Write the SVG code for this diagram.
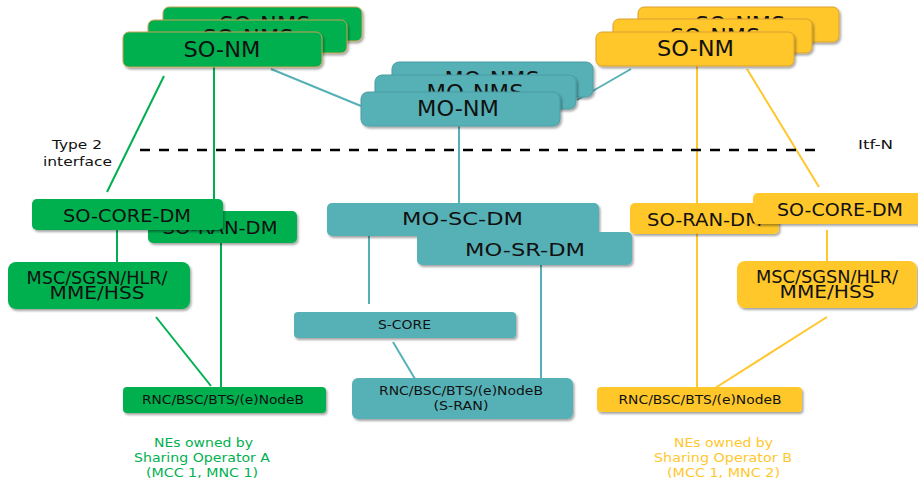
<svg xmlns="http://www.w3.org/2000/svg" width="918" height="482" viewBox="0 0 918 482">
  <defs>
    <filter id="shadow" x="-10%" y="-20%" width="125%" height="160%">
      <feDropShadow dx="1.5" dy="2" stdDeviation="1.2" flood-color="#000" flood-opacity="0.35"/>
    </filter>
  </defs>
  <style>
    text { font-family: "DejaVu Sans", Verdana, sans-serif; fill: #111; text-anchor: middle; }
    .g { fill: #00B050; }
    .y { fill: #FFC72C; }
    .t { fill: #56B1B7; }
    .nm { stroke-width: 1; filter: url(#shadow); }
    .g.nm { stroke: #C9A055; }
    .y.nm { stroke: #D9A030; }
    .t.nm { stroke: #4A9CA2; }
    .box { filter: url(#shadow); }
    .lg { stroke: #00B050; stroke-width: 2; fill: none; }
    .ly { stroke: #FFC72C; stroke-width: 2; fill: none; }
    .lt { stroke: #56B1B7; stroke-width: 2; fill: none; }
    .big { font-size: 21px; }
    .dm { font-size: 18px; }
    .ne { font-size: 17px; }
    .small { font-size: 12px; }
    .note { font-size: 13px; }
    .gt { fill: #00B050; font-size: 12px; }
    .yt { fill: #FFC72C; font-size: 12px; }
  </style>

  <!-- connectors -->
  <g id="connectors">
    <!-- operator A -->
    <line class="lg" x1="164" y1="76" x2="107" y2="192"/>
    <line class="lg" x1="214" y1="67" x2="214" y2="199"/>
    <line class="lg" x1="117" y1="230" x2="117" y2="262"/>
    <line class="lg" x1="221" y1="243" x2="221" y2="387"/>
    <line class="lg" x1="156" y1="317" x2="211" y2="386"/>
    <!-- shared (MO) -->
    <line class="lt" x1="271" y1="69" x2="361" y2="106"/>
    <line class="lt" x1="631" y1="69" x2="577" y2="100"/>
    <line class="lt" x1="459" y1="126" x2="459" y2="203"/>
    <line class="lt" x1="369" y1="236" x2="369" y2="304"/>
    <line class="lt" x1="393" y1="342" x2="418" y2="384"/>
    <line class="lt" x1="541" y1="265" x2="541" y2="378"/>
    <!-- operator B -->
    <line class="ly" x1="697" y1="66" x2="697" y2="203"/>
    <line class="ly" x1="747" y1="69" x2="819" y2="187"/>
    <line class="ly" x1="697" y1="234" x2="697" y2="387"/>
    <line class="ly" x1="827" y1="230" x2="827" y2="265"/>
    <line class="ly" x1="827" y1="317" x2="712" y2="390"/>
    <!-- Itf-N boundary -->
    <line x1="140" y1="150" x2="820" y2="150" stroke="#000" stroke-width="2.5" stroke-dasharray="10 9"/>
  </g>

  <!-- operator A network management stack -->
  <g id="so-nm-a">
    <rect class="g nm" x="163" y="7" width="199" height="34" rx="6"/>
    <text class="big" x="265" y="32" textLength="91" lengthAdjust="spacingAndGlyphs">SO-NMS</text>
    <rect class="g nm" x="148" y="20" width="199" height="33" rx="6"/>
    <text class="big" x="248" y="45" textLength="91" lengthAdjust="spacingAndGlyphs">SO-NMS</text>
    <rect class="g nm" x="123" y="32" width="199" height="35" rx="6"/>
    <text class="big" x="222" y="57" textLength="77" lengthAdjust="spacingAndGlyphs">SO-NM</text>
  </g>

  <!-- shared network management stack -->
  <g id="mo-nm">
    <rect class="t nm" x="392" y="62" width="201" height="35" rx="7"/>
    <text class="big" x="492" y="87" textLength="95" lengthAdjust="spacingAndGlyphs">MO-NMS</text>
    <rect class="t nm" x="375" y="75" width="201" height="34" rx="7"/>
    <text class="big" x="475" y="100" textLength="97" lengthAdjust="spacingAndGlyphs">MO-NMS</text>
    <rect class="t nm" x="361" y="92" width="199" height="34" rx="7"/>
    <text class="big" x="458" y="116" textLength="82" lengthAdjust="spacingAndGlyphs">MO-NM</text>
  </g>

  <!-- operator B network management stack -->
  <g id="so-nm-b">
    <rect class="y nm" x="638" y="7" width="201" height="35" rx="6"/>
    <text class="big" x="740" y="32" textLength="90" lengthAdjust="spacingAndGlyphs">SO-NMS</text>
    <rect class="y nm" x="613" y="19" width="199" height="34" rx="6"/>
    <text class="big" x="715" y="44" textLength="90" lengthAdjust="spacingAndGlyphs">SO-NMS</text>
    <rect class="y nm" x="596" y="32" width="198" height="34" rx="6"/>
    <text class="big" x="695.5" y="56" textLength="77" lengthAdjust="spacingAndGlyphs">SO-NM</text>
  </g>

  <!-- operator A domain managers and NEs -->
  <g id="so-ran-dm-a">
    <rect class="g box" x="148" y="211" width="149" height="32" rx="5"/>
    <text class="dm" x="220" y="234" textLength="115" lengthAdjust="spacingAndGlyphs">SO-RAN-DM</text>
  </g>
  <g id="so-core-dm-a">
    <rect class="g box" x="32" y="199" width="191" height="31" rx="5"/>
    <text class="dm" x="127" y="222" textLength="128" lengthAdjust="spacingAndGlyphs">SO-CORE-DM</text>
  </g>
  <g id="core-ne-a">
    <rect class="g box" x="8" y="262" width="182" height="47" rx="8"/>
    <text class="ne" x="97" y="284" textLength="141" lengthAdjust="spacingAndGlyphs">MSC/SGSN/HLR/</text>
    <text class="ne" x="97" y="299" textLength="95" lengthAdjust="spacingAndGlyphs">MME/HSS</text>
  </g>
  <g id="ran-ne-a">
    <rect class="g box" x="123" y="387" width="203" height="26" rx="4"/>
    <text class="small" x="223" y="404" textLength="162" lengthAdjust="spacingAndGlyphs">RNC/BSC/BTS/(e)NodeB</text>
  </g>

  <!-- shared domain managers and NEs -->
  <g id="mo-sc-dm">
    <rect class="t box" x="327" y="203" width="272" height="33" rx="5"/>
    <text class="dm" x="462.5" y="225" textLength="121" lengthAdjust="spacingAndGlyphs">MO-SC-DM</text>
  </g>
  <g id="mo-sr-dm">
    <rect class="t box" x="417" y="232" width="215" height="33" rx="5"/>
    <text class="dm" x="525" y="256" textLength="120" lengthAdjust="spacingAndGlyphs">MO-SR-DM</text>
  </g>
  <g id="s-core">
    <rect class="t box" x="294" y="312" width="222" height="26" rx="4"/>
    <text class="small" x="404.5" y="329" textLength="53" lengthAdjust="spacingAndGlyphs">S-CORE</text>
  </g>
  <g id="s-ran">
    <rect class="t box" x="352" y="378" width="221" height="41" rx="6"/>
    <text class="small" x="461" y="395" textLength="164" lengthAdjust="spacingAndGlyphs">RNC/BSC/BTS/(e)NodeB</text>
    <text class="small" x="461" y="410" textLength="55" lengthAdjust="spacingAndGlyphs">(S-RAN)</text>
  </g>

  <!-- operator B domain managers and NEs -->
  <g id="so-ran-dm-b">
    <rect class="y box" x="630" y="203" width="149" height="31" rx="5"/>
    <text class="dm" x="704.5" y="226" textLength="115" lengthAdjust="spacingAndGlyphs">SO-RAN-DM</text>
  </g>
  <g id="so-core-dm-b">
    <rect class="y box" x="753" y="193" width="175" height="31" rx="5"/>
    <text class="dm" x="840" y="216" textLength="126" lengthAdjust="spacingAndGlyphs">SO-CORE-DM</text>
  </g>
  <g id="core-ne-b">
    <rect class="y box" x="737" y="261" width="180" height="47" rx="8"/>
    <text class="ne" x="827" y="283" textLength="142" lengthAdjust="spacingAndGlyphs">MSC/SGSN/HLR/</text>
    <text class="ne" x="827" y="298" textLength="95" lengthAdjust="spacingAndGlyphs">MME/HSS</text>
  </g>
  <g id="ran-ne-b">
    <rect class="y box" x="597" y="387" width="205" height="25" rx="4"/>
    <text class="small" x="700" y="404" textLength="163" lengthAdjust="spacingAndGlyphs">RNC/BSC/BTS/(e)NodeB</text>
  </g>

  <!-- boundary labels -->
  <g id="labels">
    <text class="note" x="77" y="149" textLength="50" lengthAdjust="spacingAndGlyphs">Type 2</text>
    <text class="note" x="77.5" y="166" textLength="69" lengthAdjust="spacingAndGlyphs">interface</text>
    <text class="note" x="875.5" y="149" textLength="35" lengthAdjust="spacingAndGlyphs">Itf-N</text>
    <text class="gt" x="203.5" y="447" textLength="99" lengthAdjust="spacingAndGlyphs">NEs  owned  by</text>
    <text class="gt" x="202" y="462" textLength="136" lengthAdjust="spacingAndGlyphs">Sharing  Operator  A</text>
    <text class="gt" x="202" y="477" textLength="112" lengthAdjust="spacingAndGlyphs">(MCC 1,  MNC  1)</text>
    <text class="yt" x="723.5" y="447" textLength="99" lengthAdjust="spacingAndGlyphs">NEs  owned  by</text>
    <text class="yt" x="723" y="462" textLength="138" lengthAdjust="spacingAndGlyphs">Sharing  Operator  B</text>
    <text class="yt" x="723.5" y="477" textLength="113" lengthAdjust="spacingAndGlyphs">(MCC 1,  MNC  2)</text>
  </g>
</svg>
